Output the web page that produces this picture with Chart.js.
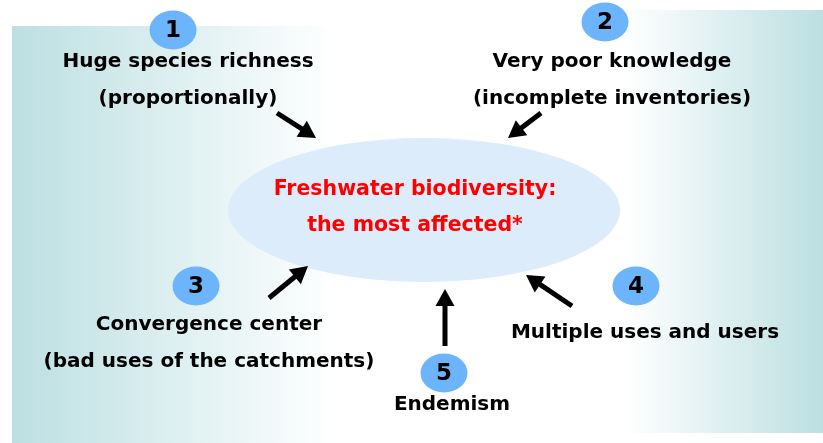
<!DOCTYPE html>
<html><head><meta charset="utf-8">
<script src="https://cdn.jsdelivr.net/npm/chart.js@4.4.1/dist/chart.umd.min.js"></script>
<style>html,body{margin:0;padding:0;background:#fff;overflow:hidden}#wrap{width:823px;height:443px;position:relative}</style>
</head><body><div id="wrap"><canvas id="c"></canvas></div>
<script>
// ---- diagram data ----
const nodeNumbers = ['1', '2', '3', '4', '5'];
const nodeX = [173, 605, 196, 636, 444];
const nodeY = [30, 22, 286, 286, 373];
const labelLines = [
  ['Huge species richness', '(proportionally)'],
  ['Very poor knowledge', '(incomplete inventories)'],
  ['Convergence center', '(bad uses of the catchments)'],
  ['Multiple uses and users'],
  ['Endemism']
];
const labelX = [188, 612, 209, 645, 452];
const labelY = [62, 62, 325, 333, 405];
const centerLines = ['Freshwater biodiversity:', 'the most affected*'];
const centerLineX = [415, 415];
const centerLineY = [190, 226];
const ellipseCenter = [424, 210];
const ellipseRadii = [196, 72];
const arrowFromX = [277, 541, 269, 572, 445];
const arrowFromY = [113, 113, 298, 306, 346];
const arrowTipX = [316, 508, 308, 526, 445];
const arrowTipY = [138, 138, 266, 275, 289];

// ---- styles ----
const FONT = '"DejaVu Sans", "Liberation Sans", sans-serif';
const HEAD_LEN = 17, HEAD_W = 19;

function shaftEnd(i) {
  const dx = arrowTipX[i] - arrowFromX[i], dy = arrowTipY[i] - arrowFromY[i];
  const L = Math.hypot(dx, dy);
  return {x: arrowTipX[i] - dx / L * (HEAD_LEN - 2), y: arrowTipY[i] - dy / L * (HEAD_LEN - 2)};
}

const bubbleImg = document.createElement('canvas');
bubbleImg.width = 48; bubbleImg.height = 40;
(function () {
  const c = bubbleImg.getContext('2d');
  c.fillStyle = '#6cb5fd';
  c.beginPath(); c.ellipse(24, 20, 23.5, 19.5, 0, 0, Math.PI * 2); c.fill();
})();

const datasets = [];
for (let i = 0; i < arrowFromX.length; i++) {
  const e = shaftEnd(i);
  datasets.push({
    type: 'line', data: [{x: arrowFromX[i], y: arrowFromY[i]}, e],
    borderColor: '#000', borderWidth: 5, pointRadius: 0, borderCapStyle: 'butt',
    showLine: true, fill: false, tension: 0
  });
}
datasets.push({
  type: 'scatter', data: nodeX.map((x, i) => ({x, y: nodeY[i]})),
  pointStyle: bubbleImg, pointRadius: 20
});

const backdrop = {
  id: 'backdrop',
  beforeDatasetsDraw(chart) {
    const {ctx} = chart; const xs = chart.scales.x, ys = chart.scales.y;
    const px = v => xs.getPixelForValue(v), py = v => ys.getPixelForValue(v);
    ctx.save();
    let g = ctx.createLinearGradient(px(12), 0, px(335), 0);
    g.addColorStop(0, '#bcdfe2'); g.addColorStop(1, '#ffffff');
    ctx.fillStyle = g; ctx.fillRect(px(12), py(26), px(420) - px(12), py(443) - py(26));
    g = ctx.createLinearGradient(px(625), 0, px(823), 0);
    g.addColorStop(0, '#ffffff'); g.addColorStop(1, '#bcdfe2');
    ctx.fillStyle = g; ctx.fillRect(px(420), py(10), px(823) - px(420), py(433) - py(10));
    ctx.fillStyle = '#dcecfb';
    ctx.beginPath();
    ctx.ellipse(px(ellipseCenter[0]), py(ellipseCenter[1]),
      px(ellipseCenter[0] + ellipseRadii[0]) - px(ellipseCenter[0]),
      py(ellipseCenter[1] + ellipseRadii[1]) - py(ellipseCenter[1]), 0, 0, Math.PI * 2);
    ctx.fill();
    ctx.restore();
  }
};

const overlay = {
  id: 'overlay',
  afterDatasetsDraw(chart) {
    const {ctx} = chart; const xs = chart.scales.x, ys = chart.scales.y;
    const px = v => xs.getPixelForValue(v), py = v => ys.getPixelForValue(v);
    ctx.save();
    ctx.fillStyle = '#000';
    for (let i = 0; i < arrowTipX.length; i++) {
      const tx = px(arrowTipX[i]), ty = py(arrowTipY[i]);
      const fx = px(arrowFromX[i]), fy = py(arrowFromY[i]);
      const a = Math.atan2(ty - fy, tx - fx);
      ctx.beginPath();
      ctx.moveTo(tx, ty);
      ctx.lineTo(tx - Math.cos(a) * HEAD_LEN - Math.sin(a) * HEAD_W / 2, ty - Math.sin(a) * HEAD_LEN + Math.cos(a) * HEAD_W / 2);
      ctx.lineTo(tx - Math.cos(a) * HEAD_LEN + Math.sin(a) * HEAD_W / 2, ty - Math.sin(a) * HEAD_LEN - Math.cos(a) * HEAD_W / 2);
      ctx.closePath(); ctx.fill();
    }
    ctx.textAlign = 'center'; ctx.textBaseline = 'middle';
    ctx.fillStyle = '#000';
    ctx.font = 'bold 23px ' + FONT;
    nodeNumbers.forEach((n, i) => ctx.fillText(n, px(nodeX[i]), py(nodeY[i]) + 1));
    ctx.font = 'bold 20px ' + FONT;
    labelLines.forEach((lines, i) => {
      lines.forEach((t, j) => ctx.fillText(t, px(labelX[i]), py(labelY[i] + j * 37)));
    });
    ctx.fillStyle = '#ff0000';
    ctx.font = 'bold 20.5px ' + FONT;
    centerLines.forEach((t, j) => ctx.fillText(t, px(centerLineX[j]), py(centerLineY[j])));
    ctx.restore();
  }
};

new Chart(document.getElementById('c'), {
  type: 'scatter',
  data: {datasets},
  options: {
    responsive: true, maintainAspectRatio: false, animation: false, events: [],
    layout: {padding: 0, autoPadding: false},
    scales: {
      x: {type: 'linear', min: 0, max: 823, display: false},
      y: {type: 'linear', min: 0, max: 443, reverse: true, display: false}
    },
    plugins: {legend: {display: false}, tooltip: {enabled: false}}
  },
  plugins: [backdrop, overlay]
});
</script>
</body></html>
